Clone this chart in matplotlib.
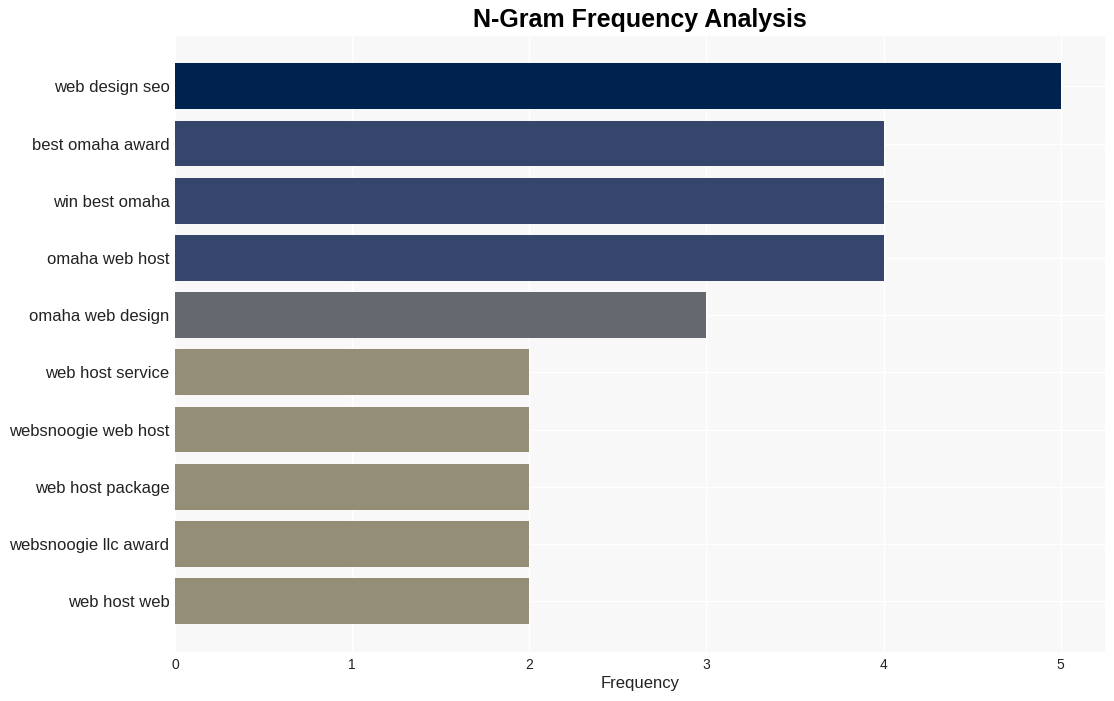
import matplotlib
matplotlib.use('Agg')
import matplotlib.pyplot as plt

ngramas = ["web design seo", "best omaha award", "win best omaha", "omaha web host",
           "omaha web design", "web host service", "websnoogie web host",
           "web host package", "websnoogie llc award", "web host web"]
frequencia = [5, 4, 4, 4, 3, 2, 2, 2, 2, 2]
cores = ["#00224e", "#35456c", "#35456c", "#35456c", "#666870",
         "#948e77", "#948e77", "#948e77", "#948e77", "#948e77"]

plt.rcParams['font.family'] = ['Liberation Sans', 'DejaVu Sans']

fig = plt.figure(figsize=(11.14, 7.01), dpi=100)
ax = fig.add_axes([175/1114, 1-652/701, 930/1114, 616/701])
ax.set_facecolor("#f8f8f8")

pos = list(range(len(ngramas)))
ax.barh(pos, frequencia, height=0.8, color=cores, zorder=2)

ax.set_yticks(pos)
ax.set_yticklabels(ngramas, fontsize=12, color="#222222")
ax.set_ylim(len(ngramas) - 1 + 0.89, -0.88)
ax.set_xlim(0, 5.25)
ax.set_xticks([0, 1, 2, 3, 4, 5])
ax.tick_params(axis='x', labelsize=10, colors="#222222", length=0, pad=4)
ax.tick_params(axis='y', length=0, pad=4)
ax.grid(True, color="white", linewidth=1, zorder=1)
for s in ax.spines.values():
    s.set_visible(False)

ax.set_xlabel("Frequency", fontsize=12, color="#222222", labelpad=3)
fig.text(640/1114, 1-20/701, "N-Gram Frequency Analysis", fontsize=18, fontweight='bold',
         ha='center', va='center')

plt.savefig("out.png", dpi=100)
